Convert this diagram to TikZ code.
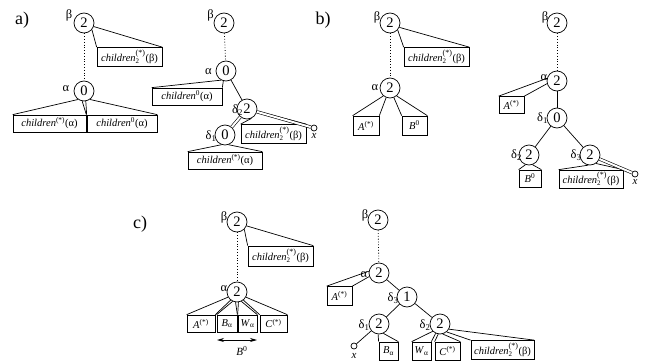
\documentclass[tikz,border=0pt]{standalone}
\usepackage{fontspec}
\setmainfont{Liberation Serif}
\usetikzlibrary{arrows.meta}
\newcommand\chTwoB{\textit{children}$^{\mbox{\footnotesize(*)}}_{\mbox{\scriptsize 2}}$(β)}
\newcommand\chStarA{\textit{children}\textsuperscript{(*)}(α)}
\newcommand\chZeroA{\textit{children}\textsuperscript{0}(α)}
\begin{document}
\begin{tikzpicture}[x=1pt,y=-1pt, line width=0.7pt,
 nd/.style={circle,draw,minimum size=20pt,inner sep=0pt,font=\fontsize{14.5}{14.5}\selectfont},
 bx/.style={draw,rectangle,inner sep=0pt,minimum height=17pt,font=\fontsize{10.5}{11}\selectfont},
 bxc/.style={bx,minimum width=65pt,minimum height=19pt},
 gl/.style={font=\fontsize{12.5}{12.5}\selectfont,inner sep=0pt},
 xc/.style={circle,draw,minimum size=6pt,inner sep=0pt},
 xl/.style={font=\fontsize{11}{11}\itshape,inner sep=0pt},
 dl/.style={double,double distance=2pt,line width=0.6pt},
 dt/.style={dotted,line width=0.8pt},
 pl/.style={font=\fontsize{18}{18}\selectfont,inner sep=0pt}]
\useasboundingbox (0,0) rectangle (648,364);
% panel labels
\node[pl] (pa) at (22,20) {a)};
\node[pl] (pb) at (323,20) {b)};
\node[pl] (pc) at (140,224) {c)};
% ===== tree a1
\node[nd] (b1) at (84,23) {2};
\node[gl] (lb1) at (69,15) {β};
\node[nd] (a1) at (84,91) {0};
\node[gl] (la1) at (66,89) {α};
\draw[dt] (b1) -- (a1);
\node[bxc] (cb1) at (129.5,57) {\chTwoB};
\draw (b1.-40) -- (cb1.north west);
\draw (b1.-20) -- (cb1.north east);
\node[bx,minimum width=73pt] (ca1) at (49.5,123.5) {\chStarA};
\node[bx,minimum width=70pt] (ca2) at (122,123.5) {\chZeroA};
\draw (a1.-125) -- (ca1.north west);
\draw (a1.-100) -- (ca1.north east);
\draw (a1.-80) -- (ca2.north west);
\draw (a1.-55) -- (ca2.north east);
% ===== tree a2
\node[nd] (b2) at (224,23) {2};
\node[gl] (lb2) at (210.5,15.5) {β};
\node[nd] (a2) at (226,71) {0};
\node[gl] (la2) at (208.5,71.5) {α};
\draw[dt] (b2) -- (a2);
\node[bx,minimum width=70pt] (ca3) at (187,96.5) {\chZeroA};
\draw (a2.-118) -- (ca3.north west);
\draw (a2.-105) -- (ca3.north east);
\node[nd] (d2a) at (247,109) {2};
\node[gl] (ld2a) at (237.5,110) {δ\textsubscript{2}};
\draw (a2) -- (d2a);
\node[nd] (d1a) at (225,135) {0};
\node[gl] (ld1a) at (211,136) {δ\textsubscript{1}};
\draw[dl] (d2a) -- (d1a);
\node[bxc] (cb2) at (273.5,134) {\chTwoB};
\draw (d2a.-65) -- (cb2.north west);
\draw (d2a.-12) -- (cb2.north east);
\node[xc] (x1) at (314,128) {};
\node[xl] (lx1) at (314,136) {x};
\draw[dl] (d2a) -- (x1);
\node[bx,minimum width=74pt] (ca4) at (225,160.5) {\chStarA};
\draw (d1a.-110) -- (ca4.north west);
\draw (d1a.-70) -- (ca4.north east);
% ===== tree b1
\node[nd] (b3) at (390,23) {2};
\node[gl] (lb3) at (377,17) {β};
\node[nd] (a3) at (390,88) {2};
\node[gl] (la3) at (375,88) {α};
\draw[dt] (b3) -- (a3);
\node[bxc] (cb3) at (436.5,57) {\chTwoB};
\draw (b3.-42) -- (cb3.north west);
\draw (b3.-25) -- (cb3.north east);
\node[bx,minimum width=26pt,minimum height=19pt] (A3) at (366,125.5) {\textit{A}\textsuperscript{(*)}};
\node[bx,minimum width=25pt,minimum height=19pt] (B3) at (414.5,125.5) {\textit{B}\textsuperscript{0}};
\draw (a3.-130) -- (A3.north west);
\draw (a3.-112) -- (A3.north east);
\draw (a3.-68) -- (B3.north west);
\draw (a3.-50) -- (B3.north east);
% ===== tree b2
\node[nd] (b4) at (557,23) {2};
\node[gl] (lb4) at (545,17) {β};
\node[nd] (a4) at (557,81) {2};
\node[gl] (la4) at (544,78) {α};
\draw[dt] (b4) -- (a4);
\node[bx,minimum width=25pt] (A4) at (511.5,105) {\textit{A}\textsuperscript{(*)}};
\draw (a4.165) -- (A4.north west);
\draw (a4.195) -- (A4.north east);
\node[nd] (d1b) at (557,118) {0};
\node[gl] (ld1b) at (542.5,118) {δ\textsubscript{1}};
\draw (a4) -- (d1b);
\node[nd] (d2b) at (529,155) {2};
\node[gl] (ld2b) at (516.5,155) {δ\textsubscript{2}};
\node[nd] (d3b) at (590,155) {2};
\node[gl] (ld3b) at (576,155) {δ\textsubscript{3}};
\draw (d1b) -- (d2b);
\draw (d1b) -- (d3b);
\node[bx,minimum width=22pt] (B4) at (530,178.5) {\textit{B}\textsuperscript{0}};
\draw (d2b.-110) -- (B4.north west);
\draw (d2b.-70) -- (B4.north east);
\node[bxc,minimum width=64pt,minimum height=18pt] (cb4) at (591,179) {\chTwoB};
\draw (d3b.-100) -- (cb4.north west);
\draw (d3b.-55) -- (cb4.north east);
\node[xc] (x2) at (635,174) {};
\node[xl] (lx2) at (635,182) {x};
\draw[dl] (d3b) -- (x2);
% ===== tree c1
\node[nd] (b5) at (237,222) {2};
\node[gl] (lb5) at (224,217) {β};
\node[nd] (a5) at (237,292) {2};
\node[gl] (la5) at (224,289) {α};
\draw[dt] (b5) -- (a5);
\node[bxc,minimum height=20pt] (cb5) at (280.5,256) {\chTwoB};
\draw (b5.-45) -- (cb5.north west);
\draw (b5.-22) -- (cb5.north east);
\node[bx,minimum width=28pt] (A5) at (201,323.5) {\textit{A}\textsuperscript{(*)}};
\node[bx,minimum width=20pt] (Ba5) at (227,323.5) {\textit{B}\textsubscript{α}};
\node[bx,minimum width=19pt] (Wa5) at (247.5,323.5) {\textit{W}\textsubscript{α}};
\node[bx,minimum width=27pt] (C5) at (273.5,323.5) {\textit{C}\textsuperscript{(*)}};
\draw (a5.-150) -- (A5.north west);
\draw (a5.-128) -- (A5.north east);
\draw (a5.-115) -- (Ba5.north west);
\draw (a5.-98) -- (Ba5.north east);
\draw (a5.-82) -- (Wa5.north west);
\draw (a5.-65) -- (Wa5.north east);
\draw (a5.-52) -- (C5.north west);
\draw (a5.-30) -- (C5.north east);
\coordinate (arL) at (217,340);
\coordinate (arR) at (257,340);
\draw[{Stealth[length=7pt,width=4pt]}-{Stealth[length=7pt,width=4pt]}] (arL) -- (arR);
\node[gl,font=\fontsize{11}{11}\selectfont] (lB0) at (242,350.5) {\textit{B}\textsuperscript{0}};
% ===== tree c2
\node[nd] (b6) at (378,220) {2};
\node[gl] (lb6) at (365,215) {β};
\node[nd] (a6) at (379,273) {2};
\node[gl] (la6) at (364,275) {α};
\draw[dt] (b6) -- (a6);
\node[bx,minimum width=25pt,minimum height=19pt] (A6) at (339.5,296) {\textit{A}\textsuperscript{(*)}};
\draw (a6.170) -- (A6.north west);
\draw (a6.200) -- (A6.north east);
\node[nd] (d3c) at (407,297) {1};
\node[gl] (ld3c) at (393,298) {δ\textsubscript{3}};
\draw (a6) -- (d3c);
\node[nd] (d1c) at (379,324) {2};
\node[gl] (ld1c) at (364,325) {δ\textsubscript{1}};
\node[nd] (d2c) at (440,324) {2};
\node[gl] (ld2c) at (425,325) {δ\textsubscript{2}};
\draw (d3c) -- (d1c);
\draw (d3c) -- (d2c);
\node[xc] (x3) at (354,346) {};
\node[xl] (lx3) at (354,356) {x};
\draw (d1c) -- (x3);
\node[bx,minimum width=19pt,minimum height=18pt] (Ba6) at (388.5,351) {\textit{B}\textsubscript{α}};
\draw (d1c.-95) -- (Ba6.north west);
\draw (d1c.-65) -- (Ba6.north east);
\node[bx,minimum width=19pt,minimum height=18pt] (Wa6) at (421.5,351) {\textit{W}\textsubscript{α}};
\node[bx,minimum width=25pt,minimum height=18pt] (C6) at (447.5,351) {\textit{C}\textsuperscript{(*)}};
\node[bxc,minimum width=63pt] (cb6) at (502.5,350) {\chTwoB};
\draw (d2c.-135) -- (Wa6.north west);
\draw (d2c.-115) -- (Wa6.north east);
\draw (d2c.-100) -- (C6.north west);
\draw (d2c.-75) -- (C6.north east);
\draw (d2c.-50) -- (cb6.north west);
\draw (d2c.-30) -- (cb6.north east);
\end{tikzpicture}
\end{document}
